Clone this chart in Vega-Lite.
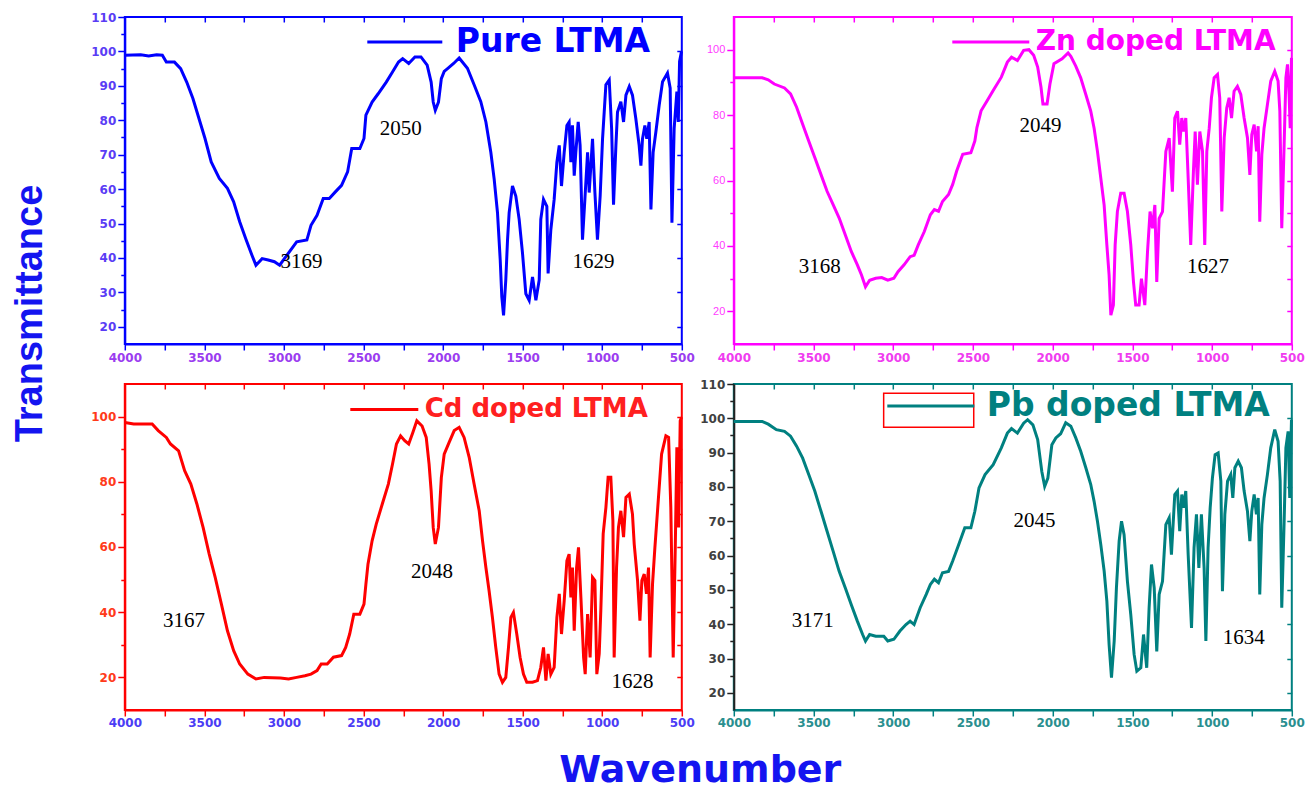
{
  "$schema": "https://vega.github.io/schema/vega-lite/v6.json",
  "background": "white",
  "padding": {"left": 10.8, "top": 1, "right": 0, "bottom": 0},
  "autosize": {"type": "pad"},
  "config": {
    "view": {"stroke": null},
    "axis": {"grid": false, "labelFont": "DejaVu Sans", "labelFontWeight": "bold", "labelFontSize": 12, "labelFlush": false, "labelOverlap": false, "labelBound": false, "domainWidth": 2, "tickWidth": 1.5, "labelPadding": 2}
  },
  "datasets": {
    "pure": [
      {"sample":"Pure LTMA","w":4000,"t":98.9},{"sample":"Pure LTMA","w":3900,"t":99},{"sample":"Pure LTMA","w":3850,"t":98.7},{"sample":"Pure LTMA","w":3800,"t":99},{"sample":"Pure LTMA","w":3764,"t":98.9},{"sample":"Pure LTMA","w":3739,"t":96.9},{"sample":"Pure LTMA","w":3688,"t":96.9},{"sample":"Pure LTMA","w":3649,"t":95},{"sample":"Pure LTMA","w":3611,"t":91.1},{"sample":"Pure LTMA","w":3572,"t":86.3},{"sample":"Pure LTMA","w":3534,"t":80.5},{"sample":"Pure LTMA","w":3496,"t":74.7},{"sample":"Pure LTMA","w":3457,"t":67.9},{"sample":"Pure LTMA","w":3406,"t":63.1},{"sample":"Pure LTMA","w":3355,"t":60.2},{"sample":"Pure LTMA","w":3316,"t":56.3},{"sample":"Pure LTMA","w":3278,"t":50.5},{"sample":"Pure LTMA","w":3240,"t":45.6},{"sample":"Pure LTMA","w":3201,"t":40.8},{"sample":"Pure LTMA","w":3176,"t":37.9},{"sample":"Pure LTMA","w":3137,"t":39.8},{"sample":"Pure LTMA","w":3099,"t":39.4},{"sample":"Pure LTMA","w":3060,"t":38.9},{"sample":"Pure LTMA","w":3027,"t":37.9},{"sample":"Pure LTMA","w":2920,"t":44.7},{"sample":"Pure LTMA","w":2856,"t":45.2},{"sample":"Pure LTMA","w":2830,"t":49.5},{"sample":"Pure LTMA","w":2792,"t":52.4},{"sample":"Pure LTMA","w":2753,"t":57.3},{"sample":"Pure LTMA","w":2715,"t":57.3},{"sample":"Pure LTMA","w":2677,"t":59.2},{"sample":"Pure LTMA","w":2638,"t":61.1},{"sample":"Pure LTMA","w":2600,"t":65},{"sample":"Pure LTMA","w":2574,"t":71.8},{"sample":"Pure LTMA","w":2523,"t":71.8},{"sample":"Pure LTMA","w":2497,"t":74.7},{"sample":"Pure LTMA","w":2485,"t":81.5},{"sample":"Pure LTMA","w":2446,"t":85.3},{"sample":"Pure LTMA","w":2408,"t":87.7},{"sample":"Pure LTMA","w":2357,"t":91.1},{"sample":"Pure LTMA","w":2318,"t":94},{"sample":"Pure LTMA","w":2280,"t":96.9},{"sample":"Pure LTMA","w":2254,"t":97.9},{"sample":"Pure LTMA","w":2216,"t":96.5},{"sample":"Pure LTMA","w":2177,"t":98.4},{"sample":"Pure LTMA","w":2139,"t":98.4},{"sample":"Pure LTMA","w":2100,"t":96},{"sample":"Pure LTMA","w":2075,"t":91.1},{"sample":"Pure LTMA","w":2062,"t":85.3},{"sample":"Pure LTMA","w":2049,"t":82.9},{"sample":"Pure LTMA","w":2029,"t":85.3},{"sample":"Pure LTMA","w":2011,"t":92.1},{"sample":"Pure LTMA","w":1993,"t":94.2},{"sample":"Pure LTMA","w":1972,"t":95},{"sample":"Pure LTMA","w":1934,"t":96.5},{"sample":"Pure LTMA","w":1899,"t":98.1},{"sample":"Pure LTMA","w":1847,"t":95.1},{"sample":"Pure LTMA","w":1805,"t":90.3},{"sample":"Pure LTMA","w":1763,"t":85.4},{"sample":"Pure LTMA","w":1731,"t":79.5},{"sample":"Pure LTMA","w":1700,"t":70.7},{"sample":"Pure LTMA","w":1679,"t":62.9},{"sample":"Pure LTMA","w":1658,"t":53.1},{"sample":"Pure LTMA","w":1641,"t":39.4},{"sample":"Pure LTMA","w":1631,"t":28.7},{"sample":"Pure LTMA","w":1620,"t":23.3},{"sample":"Pure LTMA","w":1606,"t":33.6},{"sample":"Pure LTMA","w":1595,"t":45.3},{"sample":"Pure LTMA","w":1585,"t":53.1},{"sample":"Pure LTMA","w":1564,"t":60.9},{"sample":"Pure LTMA","w":1543,"t":58},{"sample":"Pure LTMA","w":1522,"t":51.2},{"sample":"Pure LTMA","w":1501,"t":41.4},{"sample":"Pure LTMA","w":1480,"t":29.6},{"sample":"Pure LTMA","w":1459,"t":27.7},{"sample":"Pure LTMA","w":1438,"t":34.5},{"sample":"Pure LTMA","w":1417,"t":27.7},{"sample":"Pure LTMA","w":1396,"t":33.6},{"sample":"Pure LTMA","w":1386,"t":51.2},{"sample":"Pure LTMA","w":1369,"t":57},{"sample":"Pure LTMA","w":1348,"t":55},{"sample":"Pure LTMA","w":1340,"t":35.5},{"sample":"Pure LTMA","w":1323,"t":48.2},{"sample":"Pure LTMA","w":1302,"t":57},{"sample":"Pure LTMA","w":1285,"t":67.8},{"sample":"Pure LTMA","w":1270,"t":72.7},{"sample":"Pure LTMA","w":1256,"t":60.9},{"sample":"Pure LTMA","w":1239,"t":70.7},{"sample":"Pure LTMA","w":1222,"t":78.5},{"sample":"Pure LTMA","w":1208,"t":79.5},{"sample":"Pure LTMA","w":1197,"t":67.8},{"sample":"Pure LTMA","w":1187,"t":78.5},{"sample":"Pure LTMA","w":1176,"t":63.9},{"sample":"Pure LTMA","w":1166,"t":70.7},{"sample":"Pure LTMA","w":1151,"t":79.5},{"sample":"Pure LTMA","w":1139,"t":72.7},{"sample":"Pure LTMA","w":1124,"t":45.3},{"sample":"Pure LTMA","w":1109,"t":57},{"sample":"Pure LTMA","w":1092,"t":70.7},{"sample":"Pure LTMA","w":1082,"t":59},{"sample":"Pure LTMA","w":1061,"t":74.6},{"sample":"Pure LTMA","w":1046,"t":59},{"sample":"Pure LTMA","w":1030,"t":45.3},{"sample":"Pure LTMA","w":1013,"t":58},{"sample":"Pure LTMA","w":998,"t":74.6},{"sample":"Pure LTMA","w":977,"t":90.3},{"sample":"Pure LTMA","w":956,"t":91.7},{"sample":"Pure LTMA","w":941,"t":77.6},{"sample":"Pure LTMA","w":929,"t":55.5},{"sample":"Pure LTMA","w":914,"t":72.7},{"sample":"Pure LTMA","w":904,"t":82.4},{"sample":"Pure LTMA","w":883,"t":85.4},{"sample":"Pure LTMA","w":866,"t":79.5},{"sample":"Pure LTMA","w":851,"t":87.3},{"sample":"Pure LTMA","w":830,"t":89.8},{"sample":"Pure LTMA","w":810,"t":87.3},{"sample":"Pure LTMA","w":789,"t":80.5},{"sample":"Pure LTMA","w":768,"t":72.7},{"sample":"Pure LTMA","w":757,"t":66.8},{"sample":"Pure LTMA","w":747,"t":74.6},{"sample":"Pure LTMA","w":732,"t":78.5},{"sample":"Pure LTMA","w":720,"t":74.6},{"sample":"Pure LTMA","w":705,"t":79.5},{"sample":"Pure LTMA","w":694,"t":54.1},{"sample":"Pure LTMA","w":680,"t":70.7},{"sample":"Pure LTMA","w":663,"t":76.6},{"sample":"Pure LTMA","w":642,"t":84.4},{"sample":"Pure LTMA","w":621,"t":91.2},{"sample":"Pure LTMA","w":590,"t":93.7},{"sample":"Pure LTMA","w":573,"t":89.3},{"sample":"Pure LTMA","w":562,"t":50.2},{"sample":"Pure LTMA","w":548,"t":77.6},{"sample":"Pure LTMA","w":531,"t":88.3},{"sample":"Pure LTMA","w":522,"t":79.5},{"sample":"Pure LTMA","w":514,"t":97.1},{"sample":"Pure LTMA","w":502,"t":100}
    ],
    "zn": [
      {"sample":"Zn doped LTMA","w":4000,"t":91.4},{"sample":"Zn doped LTMA","w":3822,"t":91.4},{"sample":"Zn doped LTMA","w":3784,"t":90.8},{"sample":"Zn doped LTMA","w":3746,"t":89.5},{"sample":"Zn doped LTMA","w":3682,"t":88.3},{"sample":"Zn doped LTMA","w":3644,"t":86.5},{"sample":"Zn doped LTMA","w":3606,"t":82.4},{"sample":"Zn doped LTMA","w":3568,"t":77.2},{"sample":"Zn doped LTMA","w":3530,"t":72.1},{"sample":"Zn doped LTMA","w":3492,"t":67},{"sample":"Zn doped LTMA","w":3453,"t":61.8},{"sample":"Zn doped LTMA","w":3415,"t":56.7},{"sample":"Zn doped LTMA","w":3377,"t":52.6},{"sample":"Zn doped LTMA","w":3339,"t":48.5},{"sample":"Zn doped LTMA","w":3301,"t":43.4},{"sample":"Zn doped LTMA","w":3263,"t":38.3},{"sample":"Zn doped LTMA","w":3225,"t":34.2},{"sample":"Zn doped LTMA","w":3199,"t":31.1},{"sample":"Zn doped LTMA","w":3174,"t":27.5},{"sample":"Zn doped LTMA","w":3148,"t":29.5},{"sample":"Zn doped LTMA","w":3110,"t":30.1},{"sample":"Zn doped LTMA","w":3072,"t":30.3},{"sample":"Zn doped LTMA","w":3034,"t":29.5},{"sample":"Zn doped LTMA","w":2996,"t":30.1},{"sample":"Zn doped LTMA","w":2970,"t":32.1},{"sample":"Zn doped LTMA","w":2932,"t":34.2},{"sample":"Zn doped LTMA","w":2894,"t":36.7},{"sample":"Zn doped LTMA","w":2869,"t":37.1},{"sample":"Zn doped LTMA","w":2843,"t":40.3},{"sample":"Zn doped LTMA","w":2805,"t":44.4},{"sample":"Zn doped LTMA","w":2767,"t":49.5},{"sample":"Zn doped LTMA","w":2742,"t":51.1},{"sample":"Zn doped LTMA","w":2716,"t":50.6},{"sample":"Zn doped LTMA","w":2691,"t":53.6},{"sample":"Zn doped LTMA","w":2653,"t":55.7},{"sample":"Zn doped LTMA","w":2627,"t":58.8},{"sample":"Zn doped LTMA","w":2602,"t":62.9},{"sample":"Zn doped LTMA","w":2564,"t":68},{"sample":"Zn doped LTMA","w":2513,"t":68.5},{"sample":"Zn doped LTMA","w":2488,"t":72.1},{"sample":"Zn doped LTMA","w":2475,"t":76.2},{"sample":"Zn doped LTMA","w":2449,"t":81.3},{"sample":"Zn doped LTMA","w":2411,"t":84.4},{"sample":"Zn doped LTMA","w":2373,"t":87.5},{"sample":"Zn doped LTMA","w":2322,"t":91.6},{"sample":"Zn doped LTMA","w":2284,"t":96.2},{"sample":"Zn doped LTMA","w":2258,"t":97.7},{"sample":"Zn doped LTMA","w":2221,"t":96.7},{"sample":"Zn doped LTMA","w":2182,"t":99.8},{"sample":"Zn doped LTMA","w":2149,"t":100},{"sample":"Zn doped LTMA","w":2119,"t":98.3},{"sample":"Zn doped LTMA","w":2094,"t":94.7},{"sample":"Zn doped LTMA","w":2073,"t":88.5},{"sample":"Zn doped LTMA","w":2061,"t":83.4},{"sample":"Zn doped LTMA","w":2035,"t":83.4},{"sample":"Zn doped LTMA","w":2017,"t":89.5},{"sample":"Zn doped LTMA","w":1992,"t":95.7},{"sample":"Zn doped LTMA","w":1941,"t":97.2},{"sample":"Zn doped LTMA","w":1903,"t":99},{"sample":"Zn doped LTMA","w":1886,"t":98},{"sample":"Zn doped LTMA","w":1855,"t":95},{"sample":"Zn doped LTMA","w":1824,"t":91.4},{"sample":"Zn doped LTMA","w":1792,"t":86.3},{"sample":"Zn doped LTMA","w":1761,"t":81.2},{"sample":"Zn doped LTMA","w":1740,"t":76},{"sample":"Zn doped LTMA","w":1719,"t":68.9},{"sample":"Zn doped LTMA","w":1698,"t":60.7},{"sample":"Zn doped LTMA","w":1677,"t":52.5},{"sample":"Zn doped LTMA","w":1660,"t":40.3},{"sample":"Zn doped LTMA","w":1646,"t":31.1},{"sample":"Zn doped LTMA","w":1635,"t":18.8},{"sample":"Zn doped LTMA","w":1619,"t":21.9},{"sample":"Zn doped LTMA","w":1608,"t":40.3},{"sample":"Zn doped LTMA","w":1594,"t":50.5},{"sample":"Zn doped LTMA","w":1573,"t":56.1},{"sample":"Zn doped LTMA","w":1552,"t":56.1},{"sample":"Zn doped LTMA","w":1531,"t":50.5},{"sample":"Zn doped LTMA","w":1510,"t":40.3},{"sample":"Zn doped LTMA","w":1493,"t":29},{"sample":"Zn doped LTMA","w":1479,"t":21.9},{"sample":"Zn doped LTMA","w":1458,"t":21.9},{"sample":"Zn doped LTMA","w":1443,"t":30},{"sample":"Zn doped LTMA","w":1422,"t":21.9},{"sample":"Zn doped LTMA","w":1405,"t":38.2},{"sample":"Zn doped LTMA","w":1389,"t":50.5},{"sample":"Zn doped LTMA","w":1374,"t":45.4},{"sample":"Zn doped LTMA","w":1359,"t":52.5},{"sample":"Zn doped LTMA","w":1347,"t":29},{"sample":"Zn doped LTMA","w":1332,"t":48.4},{"sample":"Zn doped LTMA","w":1311,"t":50.5},{"sample":"Zn doped LTMA","w":1290,"t":68.9},{"sample":"Zn doped LTMA","w":1269,"t":73},{"sample":"Zn doped LTMA","w":1249,"t":56.6},{"sample":"Zn doped LTMA","w":1234,"t":79.1},{"sample":"Zn doped LTMA","w":1217,"t":81.2},{"sample":"Zn doped LTMA","w":1203,"t":71},{"sample":"Zn doped LTMA","w":1190,"t":79.1},{"sample":"Zn doped LTMA","w":1179,"t":75},{"sample":"Zn doped LTMA","w":1165,"t":79.1},{"sample":"Zn doped LTMA","w":1150,"t":60.7},{"sample":"Zn doped LTMA","w":1134,"t":40.3},{"sample":"Zn doped LTMA","w":1117,"t":62.8},{"sample":"Zn doped LTMA","w":1106,"t":75},{"sample":"Zn doped LTMA","w":1092,"t":58.7},{"sample":"Zn doped LTMA","w":1077,"t":75},{"sample":"Zn doped LTMA","w":1060,"t":68.9},{"sample":"Zn doped LTMA","w":1046,"t":40.3},{"sample":"Zn doped LTMA","w":1033,"t":68.9},{"sample":"Zn doped LTMA","w":1018,"t":76},{"sample":"Zn doped LTMA","w":1004,"t":85.3},{"sample":"Zn doped LTMA","w":987,"t":91.4},{"sample":"Zn doped LTMA","w":966,"t":92.4},{"sample":"Zn doped LTMA","w":952,"t":85.3},{"sample":"Zn doped LTMA","w":939,"t":50.5},{"sample":"Zn doped LTMA","w":924,"t":73},{"sample":"Zn doped LTMA","w":908,"t":82.2},{"sample":"Zn doped LTMA","w":893,"t":85.3},{"sample":"Zn doped LTMA","w":878,"t":79.1},{"sample":"Zn doped LTMA","w":862,"t":87.3},{"sample":"Zn doped LTMA","w":841,"t":88.8},{"sample":"Zn doped LTMA","w":820,"t":86.3},{"sample":"Zn doped LTMA","w":799,"t":79.1},{"sample":"Zn doped LTMA","w":778,"t":73},{"sample":"Zn doped LTMA","w":763,"t":61.7},{"sample":"Zn doped LTMA","w":751,"t":74},{"sample":"Zn doped LTMA","w":736,"t":77.1},{"sample":"Zn doped LTMA","w":721,"t":68.9},{"sample":"Zn doped LTMA","w":711,"t":76.6},{"sample":"Zn doped LTMA","w":701,"t":47.4},{"sample":"Zn doped LTMA","w":688,"t":67.9},{"sample":"Zn doped LTMA","w":674,"t":76},{"sample":"Zn doped LTMA","w":653,"t":83.2},{"sample":"Zn doped LTMA","w":632,"t":90.4},{"sample":"Zn doped LTMA","w":607,"t":93.4},{"sample":"Zn doped LTMA","w":586,"t":90.4},{"sample":"Zn doped LTMA","w":575,"t":81.2},{"sample":"Zn doped LTMA","w":563,"t":45.4},{"sample":"Zn doped LTMA","w":548,"t":71},{"sample":"Zn doped LTMA","w":537,"t":91.4},{"sample":"Zn doped LTMA","w":527,"t":95.5},{"sample":"Zn doped LTMA","w":517,"t":86.3},{"sample":"Zn doped LTMA","w":510,"t":76},{"sample":"Zn doped LTMA","w":502,"t":97.5}
    ],
    "cd": [
      {"sample":"Cd doped LTMA","w":4000,"t":98.2},{"sample":"Cd doped LTMA","w":3944,"t":97.7},{"sample":"Cd doped LTMA","w":3828,"t":97.7},{"sample":"Cd doped LTMA","w":3790,"t":95.7},{"sample":"Cd doped LTMA","w":3739,"t":93.6},{"sample":"Cd doped LTMA","w":3713,"t":91.6},{"sample":"Cd doped LTMA","w":3662,"t":89.5},{"sample":"Cd doped LTMA","w":3624,"t":83.4},{"sample":"Cd doped LTMA","w":3585,"t":79.3},{"sample":"Cd doped LTMA","w":3547,"t":73.2},{"sample":"Cd doped LTMA","w":3508,"t":66},{"sample":"Cd doped LTMA","w":3470,"t":57.9},{"sample":"Cd doped LTMA","w":3432,"t":50.7},{"sample":"Cd doped LTMA","w":3393,"t":42.5},{"sample":"Cd doped LTMA","w":3355,"t":34.3},{"sample":"Cd doped LTMA","w":3316,"t":28.2},{"sample":"Cd doped LTMA","w":3278,"t":24.1},{"sample":"Cd doped LTMA","w":3227,"t":21},{"sample":"Cd doped LTMA","w":3176,"t":19.5},{"sample":"Cd doped LTMA","w":3124,"t":20},{"sample":"Cd doped LTMA","w":3022,"t":19.8},{"sample":"Cd doped LTMA","w":2971,"t":19.5},{"sample":"Cd doped LTMA","w":2920,"t":20},{"sample":"Cd doped LTMA","w":2868,"t":20.5},{"sample":"Cd doped LTMA","w":2830,"t":21},{"sample":"Cd doped LTMA","w":2792,"t":22.1},{"sample":"Cd doped LTMA","w":2766,"t":24.1},{"sample":"Cd doped LTMA","w":2728,"t":24.1},{"sample":"Cd doped LTMA","w":2689,"t":26.2},{"sample":"Cd doped LTMA","w":2638,"t":26.7},{"sample":"Cd doped LTMA","w":2612,"t":29.2},{"sample":"Cd doped LTMA","w":2587,"t":33.3},{"sample":"Cd doped LTMA","w":2561,"t":39.4},{"sample":"Cd doped LTMA","w":2523,"t":39.4},{"sample":"Cd doped LTMA","w":2497,"t":42.5},{"sample":"Cd doped LTMA","w":2485,"t":48.6},{"sample":"Cd doped LTMA","w":2472,"t":54.7},{"sample":"Cd doped LTMA","w":2446,"t":61.9},{"sample":"Cd doped LTMA","w":2420,"t":67},{"sample":"Cd doped LTMA","w":2382,"t":73.2},{"sample":"Cd doped LTMA","w":2344,"t":79.3},{"sample":"Cd doped LTMA","w":2318,"t":85.4},{"sample":"Cd doped LTMA","w":2293,"t":91.6},{"sample":"Cd doped LTMA","w":2267,"t":94.1},{"sample":"Cd doped LTMA","w":2241,"t":92.6},{"sample":"Cd doped LTMA","w":2216,"t":91.6},{"sample":"Cd doped LTMA","w":2190,"t":95.1},{"sample":"Cd doped LTMA","w":2165,"t":98.7},{"sample":"Cd doped LTMA","w":2132,"t":97.1},{"sample":"Cd doped LTMA","w":2106,"t":93.6},{"sample":"Cd doped LTMA","w":2088,"t":85.4},{"sample":"Cd doped LTMA","w":2075,"t":77.2},{"sample":"Cd doped LTMA","w":2062,"t":66},{"sample":"Cd doped LTMA","w":2049,"t":60.9},{"sample":"Cd doped LTMA","w":2029,"t":66},{"sample":"Cd doped LTMA","w":2011,"t":81.3},{"sample":"Cd doped LTMA","w":1993,"t":88.5},{"sample":"Cd doped LTMA","w":1962,"t":92.1},{"sample":"Cd doped LTMA","w":1930,"t":95.7},{"sample":"Cd doped LTMA","w":1899,"t":96.7},{"sample":"Cd doped LTMA","w":1868,"t":93.6},{"sample":"Cd doped LTMA","w":1836,"t":87.5},{"sample":"Cd doped LTMA","w":1805,"t":79.3},{"sample":"Cd doped LTMA","w":1773,"t":71.1},{"sample":"Cd doped LTMA","w":1752,"t":61.9},{"sample":"Cd doped LTMA","w":1731,"t":53.7},{"sample":"Cd doped LTMA","w":1711,"t":46.6},{"sample":"Cd doped LTMA","w":1690,"t":38.4},{"sample":"Cd doped LTMA","w":1669,"t":29.2},{"sample":"Cd doped LTMA","w":1648,"t":21},{"sample":"Cd doped LTMA","w":1627,"t":18.5},{"sample":"Cd doped LTMA","w":1606,"t":20},{"sample":"Cd doped LTMA","w":1589,"t":29.2},{"sample":"Cd doped LTMA","w":1574,"t":38.4},{"sample":"Cd doped LTMA","w":1558,"t":39.9},{"sample":"Cd doped LTMA","w":1537,"t":33.3},{"sample":"Cd doped LTMA","w":1516,"t":26.1},{"sample":"Cd doped LTMA","w":1495,"t":21},{"sample":"Cd doped LTMA","w":1474,"t":18.5},{"sample":"Cd doped LTMA","w":1438,"t":18.5},{"sample":"Cd doped LTMA","w":1407,"t":19},{"sample":"Cd doped LTMA","w":1386,"t":23.1},{"sample":"Cd doped LTMA","w":1369,"t":29.2},{"sample":"Cd doped LTMA","w":1354,"t":19},{"sample":"Cd doped LTMA","w":1340,"t":27.2},{"sample":"Cd doped LTMA","w":1323,"t":21},{"sample":"Cd doped LTMA","w":1302,"t":23.1},{"sample":"Cd doped LTMA","w":1285,"t":38.4},{"sample":"Cd doped LTMA","w":1270,"t":45.6},{"sample":"Cd doped LTMA","w":1256,"t":33.3},{"sample":"Cd doped LTMA","w":1239,"t":43.5},{"sample":"Cd doped LTMA","w":1222,"t":55.8},{"sample":"Cd doped LTMA","w":1208,"t":57.8},{"sample":"Cd doped LTMA","w":1197,"t":44.5},{"sample":"Cd doped LTMA","w":1187,"t":53.7},{"sample":"Cd doped LTMA","w":1176,"t":34.3},{"sample":"Cd doped LTMA","w":1161,"t":53.7},{"sample":"Cd doped LTMA","w":1149,"t":59.9},{"sample":"Cd doped LTMA","w":1134,"t":44.5},{"sample":"Cd doped LTMA","w":1117,"t":26.1},{"sample":"Cd doped LTMA","w":1107,"t":21},{"sample":"Cd doped LTMA","w":1092,"t":39.4},{"sample":"Cd doped LTMA","w":1076,"t":26.1},{"sample":"Cd doped LTMA","w":1061,"t":50.7},{"sample":"Cd doped LTMA","w":1046,"t":49.7},{"sample":"Cd doped LTMA","w":1034,"t":21},{"sample":"Cd doped LTMA","w":1019,"t":27.2},{"sample":"Cd doped LTMA","w":1009,"t":40.4},{"sample":"Cd doped LTMA","w":994,"t":64},{"sample":"Cd doped LTMA","w":977,"t":72.1},{"sample":"Cd doped LTMA","w":963,"t":81.4},{"sample":"Cd doped LTMA","w":946,"t":81.4},{"sample":"Cd doped LTMA","w":933,"t":68.1},{"sample":"Cd doped LTMA","w":925,"t":26.1},{"sample":"Cd doped LTMA","w":910,"t":53.7},{"sample":"Cd doped LTMA","w":898,"t":66},{"sample":"Cd doped LTMA","w":883,"t":71.1},{"sample":"Cd doped LTMA","w":866,"t":63},{"sample":"Cd doped LTMA","w":851,"t":75.2},{"sample":"Cd doped LTMA","w":830,"t":76.2},{"sample":"Cd doped LTMA","w":810,"t":70.1},{"sample":"Cd doped LTMA","w":799,"t":60.9},{"sample":"Cd doped LTMA","w":778,"t":49.7},{"sample":"Cd doped LTMA","w":763,"t":37.4},{"sample":"Cd doped LTMA","w":751,"t":49.7},{"sample":"Cd doped LTMA","w":736,"t":51.7},{"sample":"Cd doped LTMA","w":722,"t":45.6},{"sample":"Cd doped LTMA","w":709,"t":53.7},{"sample":"Cd doped LTMA","w":699,"t":26.1},{"sample":"Cd doped LTMA","w":684,"t":48.6},{"sample":"Cd doped LTMA","w":669,"t":59.9},{"sample":"Cd doped LTMA","w":648,"t":74.2},{"sample":"Cd doped LTMA","w":627,"t":88.5},{"sample":"Cd doped LTMA","w":600,"t":94.1},{"sample":"Cd doped LTMA","w":583,"t":93.6},{"sample":"Cd doped LTMA","w":569,"t":72.1},{"sample":"Cd doped LTMA","w":554,"t":26.1},{"sample":"Cd doped LTMA","w":541,"t":59.9},{"sample":"Cd doped LTMA","w":531,"t":90.6},{"sample":"Cd doped LTMA","w":520,"t":66},{"sample":"Cd doped LTMA","w":510,"t":98.7},{"sample":"Cd doped LTMA","w":502,"t":99.8}
    ],
    "pb": [
      {"sample":"Pb doped LTMA","w":4000,"t":99.1},{"sample":"Pb doped LTMA","w":3822,"t":99.1},{"sample":"Pb doped LTMA","w":3784,"t":98.3},{"sample":"Pb doped LTMA","w":3733,"t":96.7},{"sample":"Pb doped LTMA","w":3682,"t":96.2},{"sample":"Pb doped LTMA","w":3644,"t":94.8},{"sample":"Pb doped LTMA","w":3606,"t":91.9},{"sample":"Pb doped LTMA","w":3568,"t":88.4},{"sample":"Pb doped LTMA","w":3530,"t":83.6},{"sample":"Pb doped LTMA","w":3492,"t":78.8},{"sample":"Pb doped LTMA","w":3453,"t":72.9},{"sample":"Pb doped LTMA","w":3415,"t":67.1},{"sample":"Pb doped LTMA","w":3377,"t":61.3},{"sample":"Pb doped LTMA","w":3339,"t":55.4},{"sample":"Pb doped LTMA","w":3301,"t":50.6},{"sample":"Pb doped LTMA","w":3263,"t":45.7},{"sample":"Pb doped LTMA","w":3225,"t":40.9},{"sample":"Pb doped LTMA","w":3192,"t":37},{"sample":"Pb doped LTMA","w":3174,"t":35.1},{"sample":"Pb doped LTMA","w":3148,"t":37},{"sample":"Pb doped LTMA","w":3110,"t":36.5},{"sample":"Pb doped LTMA","w":3059,"t":36.5},{"sample":"Pb doped LTMA","w":3034,"t":35.1},{"sample":"Pb doped LTMA","w":2996,"t":35.6},{"sample":"Pb doped LTMA","w":2958,"t":38},{"sample":"Pb doped LTMA","w":2920,"t":39.9},{"sample":"Pb doped LTMA","w":2894,"t":40.9},{"sample":"Pb doped LTMA","w":2869,"t":39.9},{"sample":"Pb doped LTMA","w":2831,"t":44.8},{"sample":"Pb doped LTMA","w":2793,"t":48.7},{"sample":"Pb doped LTMA","w":2767,"t":51.6},{"sample":"Pb doped LTMA","w":2742,"t":53.1},{"sample":"Pb doped LTMA","w":2716,"t":52.1},{"sample":"Pb doped LTMA","w":2691,"t":55},{"sample":"Pb doped LTMA","w":2653,"t":55.4},{"sample":"Pb doped LTMA","w":2627,"t":58.4},{"sample":"Pb doped LTMA","w":2589,"t":63.2},{"sample":"Pb doped LTMA","w":2551,"t":68.1},{"sample":"Pb doped LTMA","w":2513,"t":68.1},{"sample":"Pb doped LTMA","w":2488,"t":72.9},{"sample":"Pb doped LTMA","w":2462,"t":79.7},{"sample":"Pb doped LTMA","w":2424,"t":83.6},{"sample":"Pb doped LTMA","w":2373,"t":86.5},{"sample":"Pb doped LTMA","w":2322,"t":91.4},{"sample":"Pb doped LTMA","w":2284,"t":95.7},{"sample":"Pb doped LTMA","w":2258,"t":97},{"sample":"Pb doped LTMA","w":2221,"t":95.7},{"sample":"Pb doped LTMA","w":2182,"t":98.6},{"sample":"Pb doped LTMA","w":2157,"t":99.6},{"sample":"Pb doped LTMA","w":2124,"t":98.1},{"sample":"Pb doped LTMA","w":2094,"t":93.8},{"sample":"Pb doped LTMA","w":2068,"t":84.5},{"sample":"Pb doped LTMA","w":2050,"t":80.2},{"sample":"Pb doped LTMA","w":2030,"t":82.6},{"sample":"Pb doped LTMA","w":2005,"t":92.3},{"sample":"Pb doped LTMA","w":1980,"t":94.3},{"sample":"Pb doped LTMA","w":1950,"t":95.5},{"sample":"Pb doped LTMA","w":1918,"t":98.7},{"sample":"Pb doped LTMA","w":1886,"t":97.7},{"sample":"Pb doped LTMA","w":1855,"t":94.3},{"sample":"Pb doped LTMA","w":1824,"t":90.4},{"sample":"Pb doped LTMA","w":1792,"t":85.6},{"sample":"Pb doped LTMA","w":1761,"t":80.7},{"sample":"Pb doped LTMA","w":1740,"t":75.8},{"sample":"Pb doped LTMA","w":1719,"t":70},{"sample":"Pb doped LTMA","w":1698,"t":63.2},{"sample":"Pb doped LTMA","w":1677,"t":55.5},{"sample":"Pb doped LTMA","w":1660,"t":46.7},{"sample":"Pb doped LTMA","w":1646,"t":34.1},{"sample":"Pb doped LTMA","w":1631,"t":24.4},{"sample":"Pb doped LTMA","w":1614,"t":35.1},{"sample":"Pb doped LTMA","w":1600,"t":50.6},{"sample":"Pb doped LTMA","w":1583,"t":64.2},{"sample":"Pb doped LTMA","w":1568,"t":70},{"sample":"Pb doped LTMA","w":1552,"t":66.1},{"sample":"Pb doped LTMA","w":1531,"t":52.5},{"sample":"Pb doped LTMA","w":1510,"t":42.8},{"sample":"Pb doped LTMA","w":1489,"t":31.2},{"sample":"Pb doped LTMA","w":1472,"t":26.3},{"sample":"Pb doped LTMA","w":1447,"t":27.3},{"sample":"Pb doped LTMA","w":1430,"t":37},{"sample":"Pb doped LTMA","w":1410,"t":27.3},{"sample":"Pb doped LTMA","w":1395,"t":44.8},{"sample":"Pb doped LTMA","w":1380,"t":57.4},{"sample":"Pb doped LTMA","w":1363,"t":50.6},{"sample":"Pb doped LTMA","w":1347,"t":32.1},{"sample":"Pb doped LTMA","w":1332,"t":48.7},{"sample":"Pb doped LTMA","w":1311,"t":52.5},{"sample":"Pb doped LTMA","w":1290,"t":69},{"sample":"Pb doped LTMA","w":1269,"t":71},{"sample":"Pb doped LTMA","w":1255,"t":60.3},{"sample":"Pb doped LTMA","w":1234,"t":77.8},{"sample":"Pb doped LTMA","w":1217,"t":78.8},{"sample":"Pb doped LTMA","w":1203,"t":67.1},{"sample":"Pb doped LTMA","w":1190,"t":77.8},{"sample":"Pb doped LTMA","w":1179,"t":73.9},{"sample":"Pb doped LTMA","w":1165,"t":78.8},{"sample":"Pb doped LTMA","w":1150,"t":60.3},{"sample":"Pb doped LTMA","w":1129,"t":38.9},{"sample":"Pb doped LTMA","w":1113,"t":62.3},{"sample":"Pb doped LTMA","w":1098,"t":72},{"sample":"Pb doped LTMA","w":1083,"t":56.4},{"sample":"Pb doped LTMA","w":1067,"t":72},{"sample":"Pb doped LTMA","w":1050,"t":56.4},{"sample":"Pb doped LTMA","w":1039,"t":35.1},{"sample":"Pb doped LTMA","w":1025,"t":62.3},{"sample":"Pb doped LTMA","w":1012,"t":73.9},{"sample":"Pb doped LTMA","w":998,"t":82.6},{"sample":"Pb doped LTMA","w":981,"t":89.4},{"sample":"Pb doped LTMA","w":962,"t":89.9},{"sample":"Pb doped LTMA","w":945,"t":81.7},{"sample":"Pb doped LTMA","w":935,"t":49.6},{"sample":"Pb doped LTMA","w":920,"t":72},{"sample":"Pb doped LTMA","w":903,"t":81.7},{"sample":"Pb doped LTMA","w":883,"t":83.6},{"sample":"Pb doped LTMA","w":870,"t":76.8},{"sample":"Pb doped LTMA","w":857,"t":85.6},{"sample":"Pb doped LTMA","w":836,"t":87.5},{"sample":"Pb doped LTMA","w":816,"t":85.6},{"sample":"Pb doped LTMA","w":799,"t":78.8},{"sample":"Pb doped LTMA","w":778,"t":72.9},{"sample":"Pb doped LTMA","w":763,"t":64.2},{"sample":"Pb doped LTMA","w":751,"t":72.9},{"sample":"Pb doped LTMA","w":736,"t":77.8},{"sample":"Pb doped LTMA","w":722,"t":72},{"sample":"Pb doped LTMA","w":711,"t":76.8},{"sample":"Pb doped LTMA","w":701,"t":48.7},{"sample":"Pb doped LTMA","w":688,"t":69},{"sample":"Pb doped LTMA","w":674,"t":76.8},{"sample":"Pb doped LTMA","w":653,"t":83.6},{"sample":"Pb doped LTMA","w":632,"t":91.4},{"sample":"Pb doped LTMA","w":607,"t":96.7},{"sample":"Pb doped LTMA","w":586,"t":93.3},{"sample":"Pb doped LTMA","w":573,"t":81.7},{"sample":"Pb doped LTMA","w":563,"t":44.8},{"sample":"Pb doped LTMA","w":548,"t":70},{"sample":"Pb doped LTMA","w":537,"t":91.4},{"sample":"Pb doped LTMA","w":523,"t":96.2},{"sample":"Pb doped LTMA","w":513,"t":76.8},{"sample":"Pb doped LTMA","w":502,"t":99.6}
    ],
    "pure_lab": [{"label":"3169","w":2889,"t":38.8},{"label":"2050","w":2266,"t":77.5},{"label":"1629","w":1055,"t":38.8}],
    "zn_lab": [{"label":"3168","w":3461,"t":33.6},{"label":"2049","w":2076,"t":76.7},{"label":"1627","w":1026,"t":33.6}],
    "cd_lab": [{"label":"3167","w":3628,"t":37.4},{"label":"2048","w":2070,"t":52.2},{"label":"1628","w":810,"t":18.5}],
    "pb_lab": [{"label":"3171","w":3505,"t":40.9},{"label":"2045","w":2114,"t":70.2},{"label":"1634","w":802,"t":36}],
    "pb_box": [{"w1":3060,"w2":2495,"t1":107.3,"t2":97.4}]
  },
  "concat": [
    {
      "width": 557, "height": 327,
      "view": {"stroke": "#0000ff", "strokeWidth": 2},
      "layer": [
        {
          "data": {"name": "pure"},
          "mark": {"type": "line", "strokeWidth": 3},
          "encoding": {
            "x": {"field": "w", "type": "quantitative", "scale": {"domain": [500, 4000], "reverse": true, "nice": false, "zero": false},
              "axis": {"orient": "bottom", "title": null, "values": [4000,3750,3500,3250,3000,2750,2500,2250,2000,1750,1500,1250,1000,750,500], "labelExpr": "datum.value % 500 === 0 ? format(datum.value, 'd') : ''", "domainColor": "#0000ff", "tickColor": "#0000ff", "tickSize": 6, "labelColor": "#9b3cf0"}},
            "y": {"field": "t", "type": "quantitative", "scale": {"domain": [15, 110], "nice": false, "zero": false},
              "axis": {"orient": "left", "values": [20,25,30,35,40,45,50,55,60,65,70,75,80,85,90,95,100,105,110], "labelExpr": "datum.value % 10 === 0 ? format(datum.value, 'd') : ''", "domainColor": "#0000ff", "tickColor": "#0000ff", "tickSize": {"condition": {"test": "datum.value % 10 === 0", "value": 7}, "value": 4}, "labelColor": "#5a3cf5",
                "title": "Transmittance", "titleX": -83, "titleY": 296, "titleAngle": 270, "titleAlign": "center", "titleBaseline": "alphabetic", "titleFont": "Liberation Sans", "titleFontSize": 38, "titleFontWeight": "bold", "titleColor": "#1414f0"}},
            "color": {"field": "sample", "type": "nominal", "scale": {"range": ["#0000ff"]},
              "legend": {"orient": "none", "legendX": 241, "legendY": -14, "title": null, "symbolType": "stroke", "symbolSize": 5625, "symbolStrokeWidth": 3, "labelFont": "DejaVu Sans", "labelFontWeight": "bold", "labelFontSize": 33, "labelColor": "#0000ff", "labelOffset": 12, "labelLimit": 600, "padding": 0}}
          }
        },
        {
          "data": {"name": "pure_lab"},
          "mark": {"type": "text", "font": "Liberation Serif", "fontSize": 21, "color": "black"},
          "encoding": {
            "x": {"field": "w", "type": "quantitative", "axis": {"orient": "top", "labels": false, "domain": false, "title": null, "values": [3750,3500,3250,3000,2750,2500,2250,2000,1750,1500,1250,1000,750], "tickSize": -5, "tickColor": "#0000ff"}},
            "y": {"field": "t", "type": "quantitative", "axis": {"orient": "right", "labels": false, "domain": false, "title": null, "values": [20,30,40,50,60,70,80,90,100], "tickSize": -5, "tickColor": "#0000ff"}},
            "text": {"field": "label"}
          }
        }
      ],
      "resolve": {"axis": {"x": "independent", "y": "independent"}}
    },
    {
      "width": 558, "height": 327,
      "view": {"stroke": "#ff00ff", "strokeWidth": 2},
      "layer": [
        {
          "data": {"name": "zn"},
          "mark": {"type": "line", "strokeWidth": 3},
          "encoding": {
            "x": {"field": "w", "type": "quantitative", "scale": {"domain": [500, 4000], "reverse": true, "nice": false, "zero": false},
              "axis": {"orient": "bottom", "title": null, "values": [4000,3750,3500,3250,3000,2750,2500,2250,2000,1750,1500,1250,1000,750,500], "labelExpr": "datum.value % 500 === 0 ? format(datum.value, 'd') : ''", "domainColor": "#ff00ff", "tickColor": "#ff00ff", "tickSize": 6, "labelColor": "#f03cf0"}},
            "y": {"field": "t", "type": "quantitative", "scale": {"domain": [10, 110], "nice": false, "zero": false},
              "axis": {"orient": "left", "title": null, "values": [20,30,40,50,60,70,80,90,100], "labelExpr": "datum.value % 20 === 0 ? format(datum.value, 'd') : ''", "domainColor": "#ff00ff", "tickColor": "#ff00ff", "tickSize": {"condition": {"test": "datum.value % 20 === 0", "value": 7}, "value": 4}, "labelColor": "#ff3cff", "labelFont": "Liberation Sans", "labelFontWeight": "normal", "labelFontSize": 11}},
            "color": {"field": "sample", "type": "nominal", "scale": {"range": ["#ff00ff"]},
              "legend": {"orient": "none", "legendX": 217, "legendY": -15, "title": null, "symbolType": "stroke", "symbolSize": 5929, "symbolStrokeWidth": 3, "labelFont": "DejaVu Sans", "labelFontWeight": "bold", "labelFontSize": 28, "labelColor": "#ff00ff", "labelOffset": 5, "labelLimit": 600, "padding": 0}}
          }
        },
        {
          "data": {"name": "zn_lab"},
          "mark": {"type": "text", "font": "Liberation Serif", "fontSize": 21, "color": "black"},
          "encoding": {
            "x": {"field": "w", "type": "quantitative", "axis": {"orient": "top", "labels": false, "domain": false, "title": null, "values": [3750,3500,3250,3000,2750,2500,2250,2000,1750,1500,1250,1000,750], "tickSize": -5, "tickColor": "#ff00ff"}},
            "y": {"field": "t", "type": "quantitative", "axis": {"orient": "right", "labels": false, "domain": false, "title": null, "values": [20,30,40,50,60,70,80,90,100], "tickSize": -5, "tickColor": "#ff00ff"}},
            "text": {"field": "label"}
          }
        }
      ],
      "resolve": {"axis": {"x": "independent", "y": "independent"}}
    },
    {
      "width": 557, "height": 326,
      "view": {"stroke": "#ff0000", "strokeWidth": 2},
      "layer": [
        {
          "data": {"name": "cd"},
          "mark": {"type": "line", "strokeWidth": 3},
          "encoding": {
            "x": {"field": "w", "type": "quantitative", "scale": {"domain": [500, 4000], "reverse": true, "nice": false, "zero": false},
              "axis": {"orient": "bottom", "values": [4000,3750,3500,3250,3000,2750,2500,2250,2000,1750,1500,1250,1000,750,500], "labelExpr": "datum.value % 500 === 0 ? format(datum.value, 'd') : ''", "domainColor": "#ff0000", "tickColor": "#ff0000", "tickSize": 6, "labelColor": "#4b3cf5",
                "title": "Wavenumber", "titleX": 575, "titleY": 72, "titleAlign": "center", "titleBaseline": "alphabetic", "titleFont": "DejaVu Sans", "titleFontSize": 38, "titleFontWeight": "bold", "titleColor": "#1414f0"}},
            "y": {"field": "t", "type": "quantitative", "scale": {"domain": [10, 110], "nice": false, "zero": false},
              "axis": {"orient": "left", "title": null, "values": [20,30,40,50,60,70,80,90,100], "labelExpr": "datum.value % 20 === 0 ? format(datum.value, 'd') : ''", "domainColor": "#ff0000", "tickColor": "#ff0000", "tickSize": {"condition": {"test": "datum.value % 20 === 0", "value": 7}, "value": 4}, "labelColor": "#ff3a1a"}},
            "color": {"field": "sample", "type": "nominal", "scale": {"range": ["#ff0000"]},
              "legend": {"orient": "none", "legendX": 224, "legendY": -10, "title": null, "symbolType": "stroke", "symbolSize": 4624, "symbolStrokeWidth": 3, "labelFont": "DejaVu Sans", "labelFontWeight": "bold", "labelFontSize": 26, "labelColor": "#ff2020", "labelOffset": 5, "labelLimit": 600, "padding": 0}}
          }
        },
        {
          "data": {"name": "cd_lab"},
          "mark": {"type": "text", "font": "Liberation Serif", "fontSize": 21, "color": "black"},
          "encoding": {
            "x": {"field": "w", "type": "quantitative", "axis": {"orient": "top", "labels": false, "domain": false, "title": null, "values": [3750,3500,3250,3000,2750,2500,2250,2000,1750,1500,1250,1000,750], "tickSize": -5, "tickColor": "#ff0000"}},
            "y": {"field": "t", "type": "quantitative", "axis": {"orient": "right", "labels": false, "domain": false, "title": null, "values": [20,30,40,50,60,70,80,90,100], "tickSize": -5, "tickColor": "#ff0000"}},
            "text": {"field": "label"}
          }
        }
      ],
      "resolve": {"axis": {"x": "independent", "y": "independent"}}
    },
    {
      "width": 558, "height": 326,
      "view": {"stroke": "#008080", "strokeWidth": 2},
      "layer": [
        {
          "data": {"name": "pb"},
          "mark": {"type": "line", "strokeWidth": 3},
          "encoding": {
            "x": {"field": "w", "type": "quantitative", "scale": {"domain": [500, 4000], "reverse": true, "nice": false, "zero": false},
              "axis": {"orient": "bottom", "title": null, "values": [4000,3750,3500,3250,3000,2750,2500,2250,2000,1750,1500,1250,1000,750,500], "labelExpr": "datum.value % 500 === 0 ? format(datum.value, 'd') : ''", "domainColor": "#008080", "tickColor": "#008080", "tickSize": 6, "labelColor": "#2a8f8f"}},
            "y": {"field": "t", "type": "quantitative", "scale": {"domain": [15, 110], "nice": false, "zero": false},
              "axis": {"orient": "left", "title": null, "values": [20,25,30,35,40,45,50,55,60,65,70,75,80,85,90,95,100,105,110], "labelExpr": "datum.value % 10 === 0 ? format(datum.value, 'd') : ''", "domainColor": "#222222", "tickColor": "#222222", "tickSize": {"condition": {"test": "datum.value % 10 === 0", "value": 7}, "value": 4}, "labelColor": "#404040"}},
            "color": {"field": "sample", "type": "nominal", "scale": {"range": ["#008080"]},
              "legend": {"orient": "none", "legendX": 152, "legendY": -23, "title": null, "symbolType": "stroke", "symbolSize": 7569, "symbolStrokeWidth": 3, "labelFont": "DejaVu Sans", "labelFontWeight": "bold", "labelFontSize": 33, "labelColor": "#008080", "labelOffset": 11, "labelLimit": 600, "padding": 0}}
          }
        },
        {
          "data": {"name": "pb_box"},
          "mark": {"type": "rect", "fill": null, "stroke": "#ff0000", "strokeWidth": 1.5},
          "encoding": {
            "x": {"field": "w1", "type": "quantitative", "axis": null},
            "x2": {"field": "w2"},
            "y": {"field": "t1", "type": "quantitative", "axis": null},
            "y2": {"field": "t2"}
          }
        },
        {
          "data": {"name": "pb_lab"},
          "mark": {"type": "text", "font": "Liberation Serif", "fontSize": 21, "color": "black"},
          "encoding": {
            "x": {"field": "w", "type": "quantitative", "axis": {"orient": "top", "labels": false, "domain": false, "title": null, "values": [3750,3500,3250,3000,2750,2500,2250,2000,1750,1500,1250,1000,750], "tickSize": -5, "tickColor": "#008080"}},
            "y": {"field": "t", "type": "quantitative", "axis": {"orient": "right", "labels": false, "domain": false, "title": null, "values": [20,30,40,50,60,70,80,90,100], "tickSize": -5, "tickColor": "#008080"}},
            "text": {"field": "label"}
          }
        }
      ],
      "resolve": {"axis": {"x": "independent", "y": "independent"}}
    }
  ],
  "columns": 2,
  "spacing": {"row": 40, "column": 52},
  "bounds": "flush",
  "resolve": {"scale": {"color": "independent"}, "legend": {"color": "independent"}}
}
